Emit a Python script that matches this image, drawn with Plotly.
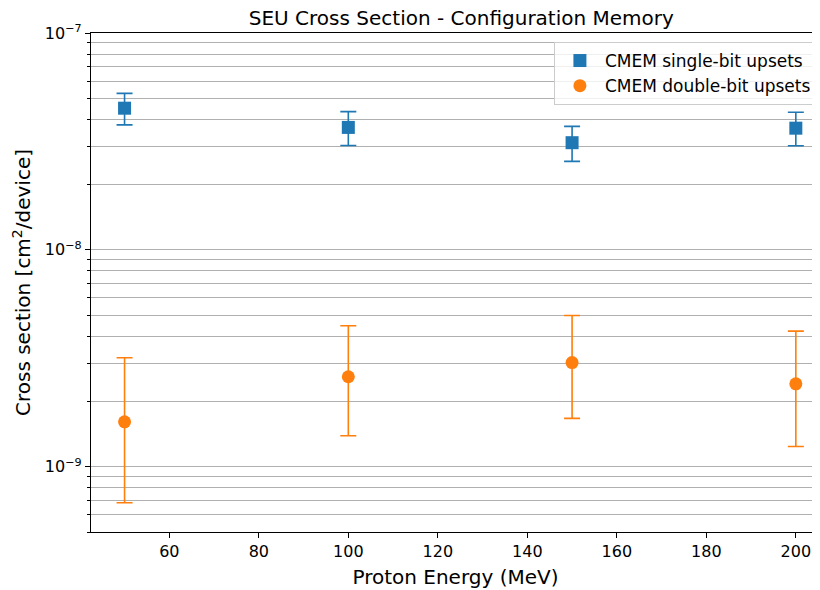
import plotly.graph_objects as go

energy = [50, 100, 150, 200]
single_bit = [4.50e-8, 3.67e-8, 3.12e-8, 3.64e-8]
single_hi = [5.27e-8, 4.34e-8, 3.71e-8, 4.31e-8]
single_lo = [3.77e-8, 3.03e-8, 2.56e-8, 3.02e-8]
double_bit = [1.61e-9, 2.60e-9, 3.02e-9, 2.41e-9]
double_hi = [3.18e-9, 4.47e-9, 4.98e-9, 4.22e-9]
double_lo = [6.82e-10, 1.39e-9, 1.67e-9, 1.24e-9]

major_vals = [1e-9, 1e-8, 1e-7]
major_text = ["10<sup>−9</sup>", "10<sup>−8</sup>", "10<sup>−7</sup>"]
minor_vals = [m * 10.0 ** e for e in (-10, -9, -8) for m in range(2, 10) if m * 10.0 ** e >= 5e-10]

BLUE = "#1f77b4"
ORANGE = "#ff7f0e"
FONT = "DejaVu Sans"

fig = go.Figure()
fig.add_trace(go.Scatter(
    x=energy, y=single_bit, mode="markers", name="CMEM single-bit upsets",
    marker=dict(symbol="square", size=13, color=BLUE),
    error_y=dict(type="data", symmetric=False,
                 array=[h - v for h, v in zip(single_hi, single_bit)],
                 arrayminus=[v - l for v, l in zip(single_bit, single_lo)],
                 color=BLUE, thickness=1.6, width=8),
))
fig.add_trace(go.Scatter(
    x=energy, y=double_bit, mode="markers", name="CMEM double-bit upsets",
    marker=dict(symbol="circle", size=13, color=ORANGE),
    error_y=dict(type="data", symmetric=False,
                 array=[h - v for h, v in zip(double_hi, double_bit)],
                 arrayminus=[v - l for v, l in zip(double_bit, double_lo)],
                 color=ORANGE, thickness=1.6, width=8),
))

fig.update_layout(
    width=812, height=582,
    margin=dict(l=83, r=0, t=25, b=58, autoexpand=False),
    paper_bgcolor="white", plot_bgcolor="white",
    font=dict(family=FONT, color="black", size=16),
    title=dict(text="SEU Cross Section - Configuration Memory", x=0.508, xref="paper",
               y=1, yref="container", yanchor="top", pad=dict(t=3, b=0),
               font=dict(size=20, family=FONT)),
    legend=dict(x=0.635, y=0.982, xanchor="left", yanchor="top",
                bgcolor="rgba(255,255,255,0.8)", bordercolor="#cccccc", borderwidth=1,
                font=dict(size=17, family=FONT), tracegroupgap=0, itemwidth=40),
    showlegend=True,
)
fig.update_xaxes(
    range=[42.5, 205.4], showgrid=False, zeroline=False, automargin=False,
    showline=True, linecolor="black", linewidth=1.2, mirror=True,
    ticks="outside", ticklen=5, tickcolor="black",
    tickvals=[60, 80, 100, 120, 140, 160, 180, 200],
    tickfont=dict(size=16),
    title=dict(text="Proton Energy (MeV)", font=dict(size=20), standoff=9),
)
fig.update_yaxes(
    type="log", range=[-9.30103, -7], zeroline=False, automargin=False,
    showline=True, linecolor="black", linewidth=1.2,
    ticks="outside", ticklen=5, tickcolor="black",
    tickmode="array", tickvals=major_vals, ticktext=major_text,
    showgrid=True, gridcolor="#b0b0b0", gridwidth=1,
    tickfont=dict(size=16),
    minor=dict(tickmode="array", tickvals=minor_vals, ticks="outside", ticklen=3,
               tickcolor="black", showgrid=True, gridcolor="#b0b0b0", gridwidth=1),
    title=dict(text="Cross section [cm<sup>2</sup>/device]", font=dict(size=20), standoff=8),
)

fig.write_html("out.html")
